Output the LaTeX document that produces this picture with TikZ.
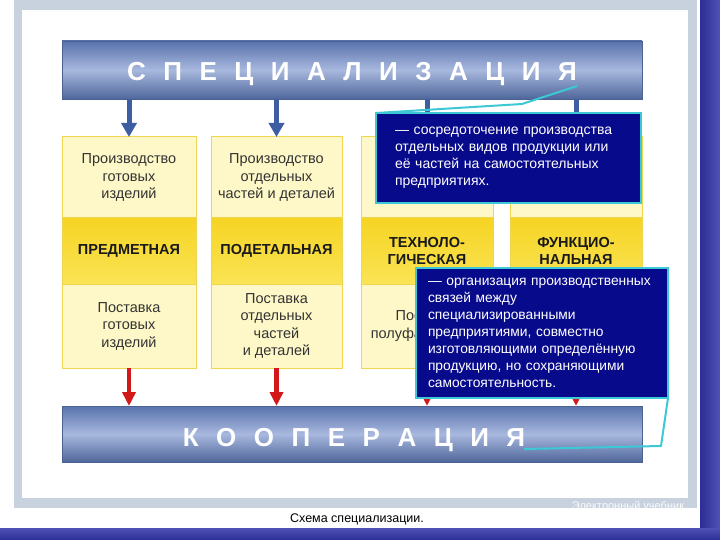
\documentclass[tikz,border=0pt]{standalone}
\usepackage{fontspec}
\setmainfont{Liberation Sans}
\usetikzlibrary{arrows.meta}
\definecolor{framegray}{RGB}{200,210,222}
\definecolor{barblue}{RGB}{88,114,172}
\definecolor{barlight}{RGB}{168,184,222}
\definecolor{navy}{RGB}{8,10,140}
\definecolor{cyanl}{RGB}{60,200,212}
\definecolor{pale}{RGB}{254,248,200}
\definecolor{ybord}{RGB}{240,214,80}
\definecolor{ytop}{RGB}{246,212,36}
\definecolor{ymid}{RGB}{255,244,160}
\definecolor{ybot}{RGB}{250,228,84}
\definecolor{arrblue}{RGB}{62,94,164}
\definecolor{arrred}{RGB}{210,24,24}
\definecolor{stripdark}{RGB}{44,46,150}
\definecolor{striplight}{RGB}{80,82,182}
\begin{document}
\begin{tikzpicture}[x=1pt,y=-1pt,
  bar/.style={draw=barblue!85!black, line width=0.6pt, top color=barblue, bottom color=barblue!90!black, middle color=barlight, minimum width=580pt, inner sep=0pt, outer sep=0pt},
  title/.style={text=white, font=\bfseries\fontsize{26}{26}\selectfont, anchor=base, inner sep=0pt},
  topbox/.style={draw=ybord, line width=1pt, fill=pale, minimum height=81pt, inner sep=0pt, outer sep=0pt, align=center, text=black!80, font=\fontsize{14.5}{17.5}\selectfont},
  botbox/.style={topbox, minimum height=84pt},
  midbox/.style={draw=ybord, line width=1pt, top color=ytop, middle color=ymid, bottom color=ybot, minimum height=66pt, inner sep=0pt, outer sep=0pt, align=center, text=black!90, font=\bfseries\fontsize{14.5}{17}\selectfont},
  uparrow/.style={arrblue, line width=5pt, -{Triangle[width=15pt,length=14pt]}},
  downarrow/.style={arrred, line width=4.5pt, -{Triangle[width=13pt,length=14pt]}},
  callout/.style={draw=cyanl, line width=1.5pt, fill=navy, text=white, align=left, anchor=north west, font=\fontsize{14}{17}\selectfont, outer sep=0pt},
  cline/.style={cyanl, line width=2pt, line join=round}
]
\useasboundingbox (0,0) rectangle (720,540);
\fill[white] (0,0) rectangle (720,540);
% frame
\fill[framegray] (14,0) rectangle (697,508);
\fill[white] (22,10) rectangle (688,498);
\begin{scope}
\clip (540,498) rectangle (688,508);
\node[text=white!92!framegray, font=\fontsize{11}{11}\selectfont, anchor=base] (wm) at (628,509) {Электронный учебник};
\end{scope}
\shade[left color=stripdark, right color=striplight] (700,0) rectangle (720,540);
\shade[top color=striplight, bottom color=stripdark] (0,528) rectangle (720,540);
\node[font=\fontsize{12.5}{12.5}\selectfont, anchor=base] (cap) at (357,522) {Схема специализации.};

% bars
\node[bar, minimum height=58pt] (spec) at (352,70) {};
\node[title] (spect) at (352,81) {С\hspace{17.5pt}П\hspace{17.5pt}Е\hspace{17.5pt}Ц\hspace{17.5pt}И\hspace{17.5pt}А\hspace{17.5pt}Л\hspace{17.5pt}И\hspace{17.5pt}З\hspace{17.5pt}А\hspace{17.5pt}Ц\hspace{17.5pt}И\hspace{17.5pt}Я};
\node[bar, minimum height=56pt] (coop) at (352,434) {};
\node[title] (coopt) at (354,446) {К\hspace{17.5pt}О\hspace{17.5pt}О\hspace{17.5pt}П\hspace{17.5pt}Е\hspace{17.5pt}Р\hspace{17.5pt}А\hspace{17.5pt}Ц\hspace{17.5pt}И\hspace{17.5pt}Я};

% columns
\node[topbox, minimum width=134pt] (t1) at (129,177.5) {Производство\\готовых\\изделий};
\node[topbox, minimum width=131pt] (t2) at (276.5,177.5) {Производство\\отдельных\\частей и деталей};
\node[topbox, minimum width=132pt] (t3) at (427,177.5) {};
\node[topbox, minimum width=132pt] (t4) at (576,177.5) {};
\node[midbox, minimum width=134pt] (m1) at (129,251) {ПРЕДМЕТНАЯ};
\node[midbox, minimum width=131pt] (m2) at (276.5,251) {ПОДЕТАЛЬНАЯ};
\node[midbox, minimum width=132pt] (m3) at (427,251) {ТЕХНОЛО-\\ГИЧЕСКАЯ};
\node[midbox, minimum width=132pt] (m4) at (576,251) {ФУНКЦИО-\\НАЛЬНАЯ};
\node[botbox, minimum width=134pt] (b1) at (129,326) {Поставка\\готовых\\изделий};
\node[botbox, minimum width=131pt] (b2) at (276.5,326) {Поставка\\отдельных\\частей\\и деталей};
\node[botbox, minimum width=132pt] (b3) at (427,326) {Поставка\\полуфабрикатов};
\node[botbox, minimum width=132pt] (b4) at (576,326) {};

% arrows
\foreach \c in {t1,t2,t3,t4} \draw[uparrow] (spec.south -| \c.north) -- (\c.north);
\foreach \c in {b1,b2,b3,b4} \draw[downarrow] (\c.south) -- (coop.north -| \c.south);

% callouts
\node[callout, minimum width=265pt, minimum height=90pt, inner xsep=19pt, text width=227pt] (d1) at (376,113)
 {— сосредоточение производства\\отдельных видов продукции или\\её частей на самостоятельных\\предприятиях.};
\node[callout, minimum width=252pt, minimum height=130pt, inner xsep=12pt, text width=228pt, font=\fontsize{13.8}{17}\selectfont] (d2) at (416,268)
 {— организация производственных\\связей между\\специализированными\\предприятиями, совместно\\изготовляющими определённую\\продукцию, но сохраняющими\\самостоятельность.};

\coordinate (k1) at (522,104);
\coordinate (e1) at (577,86);
\draw[cline] (d1.north west) -- (k1) -- (e1);
\coordinate (k2) at (661,446);
\coordinate (e2) at (524,449);
\draw[cline] (d2.south east) -- (k2) -- (e2);
\end{tikzpicture}
\end{document}
